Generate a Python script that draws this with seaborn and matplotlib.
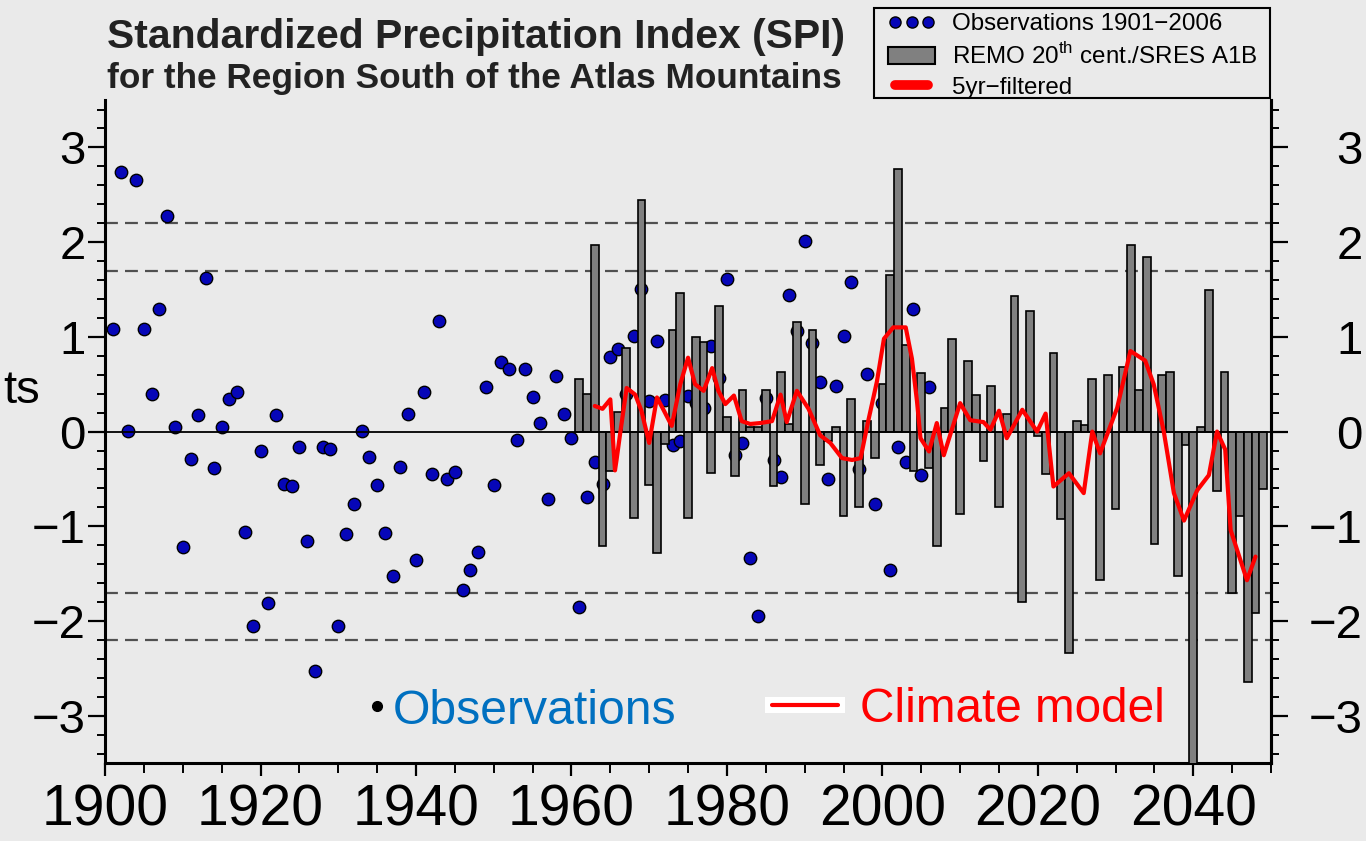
import numpy as np
import pandas as pd
import matplotlib
matplotlib.use("Agg")
import matplotlib.pyplot as plt
from matplotlib.lines import Line2D
from matplotlib.patches import Patch, Rectangle
from matplotlib.ticker import MultipleLocator
import seaborn as sns

# ----------------------------
# 1. Data
# ----------------------------
obs_years = list(range(1901, 2007))
obs_spi = [
    1.08, 2.74, 0.01, 2.66, 1.08, 0.40, 1.29, 2.28, 0.05, -1.22,
    -0.29, 0.17, 1.62, -0.38, 0.05, 0.34, 0.42, -1.06, -2.05, -0.20,
    -1.81, 0.17, -0.55, -0.57, -0.16, -1.16, -2.53, -0.16, -0.18, -2.05,
    -1.08, -0.77, 0.01, -0.27, -0.56, -1.07, -1.52, -0.37, 0.19, -1.36,
    0.42, -0.45, 1.17, -0.50, -0.43, -1.67, -1.46, -1.27, 0.47, -0.56,
    0.73, 0.66, -0.09, 0.66, 0.36, 0.09, -0.71, 0.59, 0.19, -0.07,
    -1.85, -0.69, -0.32, -0.55, 0.79, 0.87, 0.40, 1.01, 1.50, 0.32,
    0.96, 0.33, -0.14, -0.10, 0.38, 0.30, 0.25, 0.90, 0.57, 1.61,
    -0.25, -0.12, -1.34, -1.95, 0.35, -0.30, -0.48, 1.44, 1.06, 2.01,
    0.94, 0.52, -0.50, 0.48, 1.01, 1.58, -0.40, 0.61, -0.77, 0.30,
    -1.46, -0.16, -0.32, 1.29, -0.46, 0.47,
]

remo_years = list(range(1961, 2050))
remo_spi = [
    0.56, 0.40, 1.97, -1.21, -0.42, 0.21, 0.88, -0.91, 2.44, -0.56,
    -1.28, -0.13, 1.07, 1.46, -0.91, 1.00, 0.95, -0.44, 1.33, 0.15,
    -0.47, 0.44, 0.05, 0.05, 0.44, -0.58, 0.63, 0.08, 1.16, -0.77,
    1.07, -0.35, -0.10, 0.05, -0.89, 0.34, -0.80, 0.11, -0.28, 0.50,
    1.65, 2.77, 0.91, -0.42, 0.62, -0.38, -1.21, 0.25, 0.98, -0.87,
    0.74, 0.39, -0.31, 0.48, -0.80, 0.19, 1.43, -1.80, 1.27, -0.05,
    -0.45, 0.83, -0.92, -2.34, 0.11, 0.07, 0.56, -1.57, 0.60, -0.82,
    0.68, 1.97, 0.44, 1.84, -1.19, 0.60, 0.63, -1.52, -0.14, -3.70,
    0.05, 1.49, -0.63, 0.63, -1.70, -0.89, -2.64, -1.92, -0.61,
]

filt_years = [
    1963.0, 1964.0, 1965.0, 1965.6, 1965.8, 1966.3, 1967.1, 1968.2, 1969.0,
    1970.0, 1971.0, 1971.9, 1972.9, 1974.0, 1975.0, 1975.9, 1977.0, 1978.1,
    1978.9, 1979.8, 1980.9, 1981.9, 1983.0, 1984.3, 1985.8, 1986.9, 1987.7,
    1989.0, 1990.5, 1992.0, 1993.3, 1994.8, 1996.1, 1997.2, 1998.2, 1999.3,
    2000.2, 2001.4, 2003.0, 2003.8, 2004.45, 2004.9, 2006.0, 2007.0, 2007.9,
    2010.0, 2011.3, 2013.0, 2013.9, 2015.0, 2016.0, 2018.0, 2019.9, 2021.0,
    2022.0, 2024.0, 2025.9, 2027.0, 2028.0, 2030.2, 2031.9, 2033.8, 2034.9,
    2036.2, 2037.5, 2038.8, 2040.5, 2042.0, 2043.05, 2044.1, 2044.8, 2046.9,
    2048.0,
]
filt_spi = [
    0.27, 0.24, 0.34, -0.41, -0.30, 0.00, 0.46, 0.39, 0.22,
    -0.12, 0.36, 0.22, 0.06, 0.50, 0.78, 0.50, 0.43, 0.67,
    0.43, 0.29, 0.38, 0.11, 0.08, 0.09, 0.11, 0.39, 0.10,
    0.43, 0.24, -0.04, -0.12, -0.28, -0.30, -0.28, 0.12, 0.53,
    0.98, 1.10, 1.10, 0.77, 0.32, -0.07, -0.21, 0.09, -0.25,
    0.30, 0.12, 0.10, 0.02, 0.22, -0.07, 0.23, 0.00, 0.19,
    -0.58, -0.44, -0.65, 0.00, -0.23, 0.25, 0.85, 0.75, 0.50,
    0.00, -0.65, -0.94, -0.62, -0.46, 0.00, -0.19, -1.04, -1.57,
    -1.32,
]

thresholds = [2.2, 1.7, -1.7, -2.2]

obs_df = pd.DataFrame({"year": obs_years, "spi": obs_spi})
remo_df = pd.DataFrame({"year": remo_years, "spi": remo_spi})
filt_df = pd.DataFrame({"year": filt_years, "spi": filt_spi})

# ----------------------------
# 2. Style
# ----------------------------
sns.set_theme(style="ticks")
bg = "#EAEAEA"
plt.rcParams["font.family"] = ["Liberation Sans", "DejaVu Sans"]
plt.rcParams["mathtext.fontset"] = "custom"
plt.rcParams["mathtext.rm"] = "Liberation Sans"
plt.rcParams["axes.unicode_minus"] = True
plt.rcParams["text.color"] = "black"

fig = plt.figure(figsize=(13.66, 8.41), dpi=100, facecolor=bg)
ax = fig.add_axes([0.0769, 0.0927, 0.8536, 0.7883], facecolor=bg)

# ----------------------------
# 3. Plot
# ----------------------------
for v in thresholds:
    ax.axhline(v, color="#505050", lw=1.6, ls=(0, (5.8, 3.2)), zorder=1)

sns.scatterplot(data=obs_df, x="year", y="spi", ax=ax, color="#0606B8",
                edgecolor="black", linewidth=1.0, s=80, zorder=2, legend=False)

sns.barplot(data=remo_df, x="year", y="spi", ax=ax, native_scale=True,
            width=1.0, color="#808080", saturation=1, edgecolor="black",
            linewidth=1.2, errorbar=None, zorder=3)

ax.axhline(0, color="black", lw=1.3, zorder=3.5)

sns.lineplot(data=filt_df, x="year", y="spi", ax=ax, color="red", lw=3,
             sort=False, estimator=None, zorder=4)

# ----------------------------
# 4. Axes, ticks
# ----------------------------
ax.set_xlim(1900, 2050)
ax.set_ylim(-3.5, 3.5)
ax.set_xlabel("")
ax.set_ylabel("")
ax.set_xticks(range(1900, 2041, 20))
ax.xaxis.set_minor_locator(MultipleLocator(5))
ax.set_yticks(range(-3, 4))
ax.yaxis.set_minor_locator(MultipleLocator(0.2))

ax.tick_params(axis="both", which="both", colors="black")
ax.tick_params(axis="y", which="major", direction="out", length=12, width=1.6,
               labelsize=34, pad=2)
ax.tick_params(axis="y", which="minor", direction="out", length=6, width=1.4)
ax.tick_params(axis="x", which="major", direction="out", length=9, width=1.6,
               labelsize=41, pad=6)
ax.tick_params(axis="x", which="minor", direction="out", length=7, width=1.4)

for side in ["left", "right", "bottom"]:
    ax.spines[side].set_visible(True)
    ax.spines[side].set_color("black")
    ax.spines[side].set_linewidth(2.2)
ax.spines["top"].set_visible(False)

# right hand axis, labels cut by the figure edge
ax2 = ax.twinx()
ax2.set_ylim(-3.5, 3.5)
ax2.set_yticks(range(-3, 4))
ax2.yaxis.set_minor_locator(MultipleLocator(0.2))
ax2.tick_params(axis="y", which="both", colors="black")
ax2.tick_params(axis="y", which="major", direction="out", length=12, width=1.6,
                labelsize=34, pad=54)
ax2.tick_params(axis="y", which="minor", direction="out", length=6, width=1.4)
for lab in ax2.get_yticklabels():
    lab.set_horizontalalignment("right")
for side in ["left", "top", "bottom"]:
    ax2.spines[side].set_visible(False)
ax2.spines["right"].set_color("black")
ax2.spines["right"].set_linewidth(2.2)

# ----------------------------
# 5. Texts
# ----------------------------
fig.text(0.0783, 0.943, "Standardized Precipitation Index (SPI)",
         fontsize=29.4, fontweight="bold", va="baseline", color="#222222")
fig.text(0.0783, 0.8954, "for the Region South of the Atlas Mountains",
         fontsize=25.4, fontweight="bold", va="baseline", color="#222222")
fig.text(0.0293, 0.5208, "ts", fontsize=34, ha="right", va="baseline")

ax.plot([0.2333], [0.086], "o", color="black", ms=7, transform=ax.transAxes,
        zorder=6)
ax.text(0.247, 0.059, "Observations", transform=ax.transAxes, fontsize=34.7,
        color="#0070C0", va="baseline", zorder=6)
ax.add_patch(Rectangle((0.566, 0.0754), 0.069, 0.0241, transform=ax.transAxes,
                       facecolor="white", edgecolor="none", zorder=6))
ax.plot([0.572, 0.629], [0.0875, 0.0875], color="red", lw=3,
        transform=ax.transAxes, zorder=7)
ax.text(0.6475, 0.062, "Climate model", transform=ax.transAxes, fontsize=34.4,
        color="red", va="baseline", zorder=6)

# ----------------------------
# 6. Legend (frame drawn separately so the padding matches)
# ----------------------------
fig.add_artist(Rectangle((874 / 1366, 1 - 98 / 841), 396 / 1366, 90 / 841,
                         transform=fig.transFigure, facecolor=bg,
                         edgecolor="black", linewidth=1.5, zorder=5))
handles = [
    Line2D([], [], marker="o", ls="none", color="#0606B8", mec="black", ms=8),
    Patch(facecolor="#808080", edgecolor="black", linewidth=1.5),
    Line2D([], [], color="red", lw=7),
]
labels = ["Observations 1901\u22122006", "REMO 20$^{\\rm th}$ cent./SRES A1B",
          "5yr\u2212filtered"]
leg = fig.legend(handles, labels, loc="upper left", numpoints=3,
                 bbox_to_anchor=(888 / 1366, 1 - 13 / 841), borderaxespad=0,
                 fontsize=17.4, frameon=False, borderpad=0, labelspacing=0.33,
                 handlelength=1.95, handletextpad=0.7)
leg.set_zorder(6)

fig.savefig("out.png", dpi=100, facecolor=bg)
